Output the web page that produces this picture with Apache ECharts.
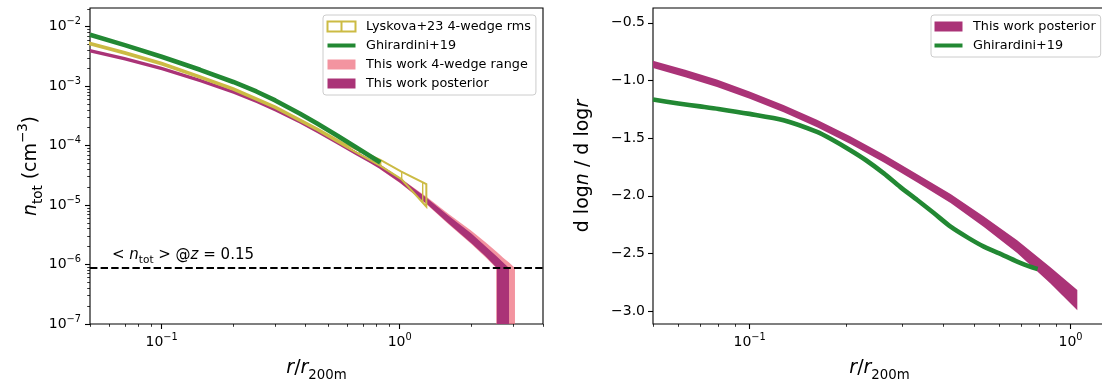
<!DOCTYPE html>
<html>
<head>
<meta charset="utf-8">
<script src="https://cdn.jsdelivr.net/npm/echarts@6/dist/echarts.min.js"></script>
<style>
html, body { margin: 0; padding: 0; background: #fff; }
#chart { width: 1102px; height: 383px; }
</style>
</head>
<body>
<div id="chart"></div>
<script>
var FONT = 'DejaVu Sans';
var LOG = Math.log10;

var GREEN = '#228833', PURPLE = '#AA3377', YELLOW = '#CCBB44', PINK = 'rgba(238,102,119,0.7)';

// ---- left panel : n_tot(r), values are log10(n / cm^-3) ----
var leftXRange = [0.05, 4];
var leftYRange = [-7, -1.686];
var leftXTicks = [0.1, 1];
var leftYTicks = [-7, -6, -5, -4, -3, -2];
var meanDensity = -6.057;   // <n_tot> @ z=0.15

var ghirR    = [0.05, 0.07, 0.1, 0.145, 0.2, 0.25, 0.3, 0.38, 0.45, 0.55, 0.65, 0.75, 0.83];
var ghirLogN = [-2.135, -2.31, -2.505, -2.725, -2.93, -3.09, -3.24, -3.46, -3.63, -3.84, -4.02, -4.175, -4.285];

var lyR  = [0.05, 0.07, 0.1, 0.145, 0.2, 0.3, 0.45, 0.6, 0.83, 1.016, 1.294];
var lyHi = [-2.271, -2.425, -2.608, -2.832, -3.033, -3.341, -3.71, -3.99, -4.24, -4.436, -4.648];
var lyLo = [-2.301, -2.455, -2.638, -2.862, -3.063, -3.371, -3.74, -4.03, -4.34, -4.564, -5.025];

var postHiR = [0.05, 0.07, 0.1, 0.145, 0.2, 0.25, 0.3, 0.38, 0.45, 0.55, 0.65, 0.75, 0.83, 1.0, 1.3, 1.6, 2.0, 2.3, 2.56, 2.72, 2.88];
var postHi  = [-2.374, -2.51, -2.673, -2.875, -3.068, -3.222, -3.366, -3.57, -3.73, -3.925, -4.088, -4.226, -4.324, -4.54, -4.88, -5.175, -5.48, -5.695, -5.865, -5.965, -6.057];
var postLoR = [0.05, 0.07, 0.1, 0.145, 0.2, 0.25, 0.3, 0.38, 0.45, 0.55, 0.65, 0.75, 0.83, 1.0, 1.3, 1.6, 2.0, 2.3, 2.56];
var postLo  = [-2.434, -2.57, -2.733, -2.935, -3.128, -3.282, -3.426, -3.63, -3.79, -3.985, -4.152, -4.294, -4.396, -4.62, -4.98, -5.305, -5.64, -5.865, -6.057];

var pinkHiR = [0.83, 1.0, 1.3, 1.6, 2.0, 2.3, 2.56, 2.72, 2.88, 3.05];
var pinkHi  = [-4.324, -4.54, -4.865, -5.145, -5.43, -5.63, -5.79, -5.885, -5.965, -6.057];
var pinkLoR = [0.83, 1.0, 1.3, 1.6, 2.0, 2.3, 2.545];
var pinkLo  = [-4.40, -4.625, -4.99, -5.32, -5.655, -5.88, -6.057];

// ---- right panel : d log n / d log r ----
var rightXRange = [0.05, 1.29];
var rightYRange = [-3.112, -0.372];
var rightXTicks = [0.1, 1];
var rightYTicks = [-3, -2.5, -2, -1.5, -1, -0.5];

var rPostR  = [0.05, 0.063, 0.0791, 0.1, 0.1276, 0.1622, 0.206, 0.262, 0.333, 0.423, 0.537, 0.682, 0.866, 1.05];
var rPostHi = [-0.829, -0.908, -0.993, -1.095, -1.212, -1.342, -1.485, -1.643, -1.814, -1.984, -2.18, -2.386, -2.62, -2.818];
var rPostLo = [-0.893, -0.972, -1.057, -1.159, -1.276, -1.406, -1.551, -1.711, -1.886, -2.062, -2.27, -2.496, -2.76, -2.992];

var rGhirR = [0.05, 0.06, 0.07, 0.08, 0.1, 0.1276, 0.1622, 0.18, 0.206, 0.23, 0.262, 0.295, 0.333, 0.375, 0.423, 0.48, 0.537, 0.6, 0.682, 0.74, 0.79];
var rGhir  = [-1.166, -1.20, -1.225, -1.247, -1.29, -1.345, -1.446, -1.51, -1.605, -1.69, -1.806, -1.925, -2.037, -2.15, -2.268, -2.365, -2.441, -2.50, -2.571, -2.61, -2.635];

var HATCH_STEP = 21, HATCH_PHASE = 2.7;

function minorLogTicks(lo, hi) {
    var out = [];
    for (var e = Math.floor(LOG(lo)); e <= Math.ceil(LOG(hi)); e++) {
        for (var k = 2; k <= 9; k++) {
            var v = k * Math.pow(10, e);
            if (v >= lo * 0.999 && v <= hi * 1.001) out.push(LOG(v));
        }
    }
    return out;
}

function supLabel(v) {
    var e = Math.round(v);
    return '{b|10}{s|' + (e < 0 ? '\u2212' : '') + Math.abs(e) + '}';
}

var tickRich = {
    b: { fontSize: 14, lineHeight: 20, fontFamily: FONT, color: '#000' },
    s: { fontSize: 9.8, lineHeight: 11, verticalAlign: 'top', fontFamily: FONT, color: '#000' }
};
var nameRich = {
    i: { fontSize: 19, lineHeight: 28, fontStyle: 'italic', fontFamily: FONT, color: '#000' },
    sub: { fontSize: 13.3, lineHeight: 16, verticalAlign: 'bottom', fontFamily: FONT, color: '#000' },
    sup: { fontSize: 13.3, lineHeight: 15, verticalAlign: 'top', fontFamily: FONT, color: '#000' }
};
var nameStyle = { fontSize: 19, lineHeight: 28, fontFamily: FONT, color: '#000', rich: nameRich };

function majorAxis(grid, range, ticks, fmt, pos, margin, name, gap) {
    return {
        type: 'value', gridIndex: grid, position: pos, min: range[0], max: range[1],
        axisLine: { show: false, onZero: false },
        axisTick: { show: true, customValues: ticks, length: 5, lineStyle: { color: '#000', width: 1.1 } },
        axisLabel: { customValues: ticks, formatter: fmt, margin: margin, color: '#000',
                     fontFamily: FONT, fontSize: 14, rich: tickRich },
        splitLine: { show: false },
        name: name, nameLocation: 'middle', nameGap: gap, nameTextStyle: nameStyle
    };
}
function minorAxis(grid, range, ticks, pos) {
    return {
        type: 'value', gridIndex: grid, position: pos, min: range[0], max: range[1],
        axisLine: { show: false, onZero: false },
        axisTick: { show: true, customValues: ticks, length: 2.8, lineStyle: { color: '#000', width: 0.8 } },
        axisLabel: { show: false }, splitLine: { show: false }
    };
}

function bandRender(topR, top, botR, bot, dropTo) {
    return function (params, api) {
        var pts = [], i;
        for (i = 0; i < topR.length; i++) pts.push(api.coord([LOG(topR[i]), top[i]]));
        if (dropTo != null) {
            pts.push(api.coord([LOG(topR[topR.length - 1]), dropTo]));
            pts.push(api.coord([LOG(botR[botR.length - 1]), dropTo]));
        }
        for (i = botR.length - 1; i >= 0; i--) pts.push(api.coord([LOG(botR[i]), bot[i]]));
        return { type: 'polygon', shape: { points: pts }, style: { fill: api.visual('color') } };
    };
}

function interpY(line, x) {
    for (var i = 1; i < line.length; i++) {
        if (x <= line[i][0]) {
            var t = (x - line[i - 1][0]) / (line[i][0] - line[i - 1][0]);
            return line[i - 1][1] + t * (line[i][1] - line[i - 1][1]);
        }
    }
    return line[line.length - 1][1];
}

function lyskovaRender(params, api) {
    var top = lyR.map(function (r, i) { return api.coord([LOG(r), lyHi[i]]); });
    var bot = lyR.map(function (r, i) { return api.coord([LOG(r), lyLo[i]]); });
    var kids = [{
        type: 'polygon', shape: { points: top.concat(bot.slice().reverse()) },
        style: { fill: 'none', stroke: YELLOW, lineWidth: 2 }
    }];
    // '|' hatch
    var x0 = top[0][0], x1 = top[top.length - 1][0];
    for (var x = Math.ceil((x0 - HATCH_PHASE) / HATCH_STEP) * HATCH_STEP + HATCH_PHASE; x < x1; x += HATCH_STEP) {
        var yt = interpY(top, x), yb = interpY(bot, x);
        if (yb - yt > 3) kids.push({ type: 'line', shape: { x1: x, y1: yt, x2: x, y2: yb },
                                     style: { stroke: YELLOW, lineWidth: 1.4 } });
    }
    return { type: 'group', children: kids };
}

function pairs(rs, vs) {
    return rs.map(function (r, i) { return [LOG(r), vs[i]]; });
}

var legendBase = {
    orient: 'vertical', itemWidth: 28, itemHeight: 10, itemGap: 5,
    padding: [4.5, 5, 4.5, 3.5], selectedMode: false,
    backgroundColor: 'rgba(255,255,255,0.8)', borderColor: '#cccccc', borderWidth: 1, borderRadius: 3,
    textStyle: { fontFamily: FONT, fontSize: 12.8, lineHeight: 14, color: '#000', padding: [0, 0, 0, 5.5] }
};
var lyIcon = { name: 'Lyskova+23 4-wedge rms', icon: 'path://M0,0L28,0L28,10L0,10Z M14,0L14,10',
               itemStyle: { color: 'rgba(0,0,0,0)', borderColor: YELLOW, borderWidth: 2 } };
var ghIcon = { name: 'Ghirardini+19', icon: 'path://M0,0L28,0L28,4L0,4Z',
               itemStyle: { color: GREEN, borderWidth: 0 } };
var pkIcon = { name: 'This work 4-wedge range', icon: 'rect', itemStyle: { color: PINK, borderWidth: 0 } };
var ppIcon = { name: 'This work posterior', icon: 'rect', itemStyle: { color: PURPLE, borderWidth: 0 } };

var chart = echarts.init(document.getElementById('chart'));
chart.setOption({
    animation: false,
    textStyle: { fontFamily: FONT },
    grid: [
        { left: 90, top: 8, width: 453, height: 316, show: true, borderColor: '#000', borderWidth: 1.1,
          backgroundColor: 'transparent', outerBoundsMode: 'none' },
        { left: 653, top: 8, width: 453, height: 316, show: true, borderColor: '#000', borderWidth: 1.1,
          backgroundColor: 'transparent', outerBoundsMode: 'none' }
    ],
    legend: [
        Object.assign({}, legendBase, { left: 323, top: 15, data: [lyIcon, ghIcon, pkIcon, ppIcon] }),
        Object.assign({}, legendBase, { left: 931, top: 15, data: [ppIcon, ghIcon] })
    ],
    xAxis: [
        majorAxis(0, [LOG(leftXRange[0]), LOG(leftXRange[1])], leftXTicks.map(LOG), supLabel, 'bottom', 8,
                  '{i|r}/{i|r}{sub|200m}', 25),
        minorAxis(0, [LOG(leftXRange[0]), LOG(leftXRange[1])], minorLogTicks(leftXRange[0], leftXRange[1]), 'bottom'),
        majorAxis(1, [LOG(rightXRange[0]), LOG(rightXRange[1])], rightXTicks.map(LOG), supLabel, 'bottom', 8,
                  '{i|r}/{i|r}{sub|200m}', 25),
        minorAxis(1, [LOG(rightXRange[0]), LOG(rightXRange[1])], minorLogTicks(rightXRange[0], rightXRange[1]), 'bottom')
    ],
    yAxis: [
        majorAxis(0, leftYRange, leftYTicks, supLabel, 'left', 9,
                  '{i|n}{sub|tot} (cm{sup|\u22123})', 44),
        minorAxis(0, leftYRange, minorLogTicks(Math.pow(10, leftYRange[0]), Math.pow(10, leftYRange[1])), 'left'),
        majorAxis(1, rightYRange, rightYTicks, function (v) {
            return (v < 0 ? '\u2212' : '') + Math.abs(v).toFixed(1);
        }, 'left', 8, 'd log{i|n} / d log{i|r}', 56)
    ],
    series: [
        { type: 'custom', name: 'This work 4-wedge range', xAxisIndex: 0, yAxisIndex: 0, z: 2, silent: true,
          itemStyle: { color: PINK }, data: [[0, 0]],
          renderItem: bandRender(pinkHiR, pinkHi, pinkLoR, pinkLo, leftYRange[0]) },
        { type: 'custom', name: 'This work posterior', xAxisIndex: 0, yAxisIndex: 0, z: 3, silent: true,
          itemStyle: { color: PURPLE }, data: [[0, 0]],
          renderItem: bandRender(postHiR, postHi, postLoR, postLo, leftYRange[0]) },
        { type: 'custom', name: 'Lyskova+23 4-wedge rms', xAxisIndex: 0, yAxisIndex: 0, z: 4, silent: true,
          itemStyle: { color: YELLOW }, data: [[0, 0]], renderItem: lyskovaRender },
        { type: 'line', name: 'Ghirardini+19', xAxisIndex: 0, yAxisIndex: 0, z: 5, silent: true,
          data: pairs(ghirR, ghirLogN), showSymbol: false, symbol: 'none', smooth: false,
          lineStyle: { color: GREEN, width: 4.6, join: 'round' }, itemStyle: { color: GREEN },
          markLine: {
              silent: true, symbol: ['none', 'none'], animation: false,
              lineStyle: { color: '#000', width: 2, type: [7.4, 3.2] },
              label: {
                  show: true, position: 'insideStartTop', distance: [22, 2],
                  formatter: '< {i|n}{sub|tot} > @{i|z} = 0.15',
                  color: '#000', fontFamily: FONT, fontSize: 15, lineHeight: 22,
                  rich: {
                      i: { fontSize: 15, lineHeight: 22, fontStyle: 'italic', fontFamily: FONT, color: '#000' },
                      sub: { fontSize: 10.5, lineHeight: 13, verticalAlign: 'bottom', fontFamily: FONT, color: '#000' }
                  }
              },
              data: [{ yAxis: meanDensity }]
          } },
        { type: 'custom', name: 'This work posterior', xAxisIndex: 2, yAxisIndex: 2, z: 3, silent: true,
          itemStyle: { color: PURPLE }, data: [[0, -1]],
          renderItem: bandRender(rPostR, rPostHi, rPostR, rPostLo, null) },
        { type: 'line', name: 'Ghirardini+19', xAxisIndex: 2, yAxisIndex: 2, z: 5, silent: true,
          data: pairs(rGhirR, rGhir), showSymbol: false, symbol: 'none', smooth: 0.25,
          lineStyle: { color: GREEN, width: 4.6, join: 'round' }, itemStyle: { color: GREEN } }
    ]
});
</script>
</body>
</html>
